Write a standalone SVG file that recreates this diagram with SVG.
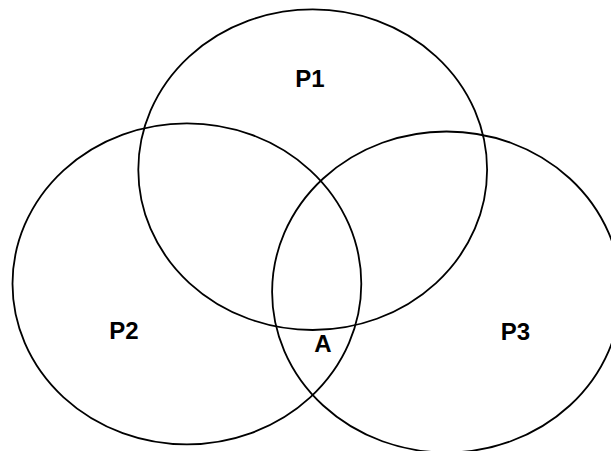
<svg xmlns="http://www.w3.org/2000/svg" width="611" height="451" viewBox="0 0 611 451">
<style>
.c{fill:none;stroke:#000;stroke-width:1.8}
.t{font-family:"Liberation Sans",Arial,sans-serif;font-weight:bold;font-size:24px;fill:#000;text-anchor:middle}
</style>
<rect width="611" height="451" fill="#fff"/>
<g id="P1"><ellipse class="c" cx="312.7" cy="169.7" rx="174.4" ry="160.3"/><text class="t" x="310" y="87">P1</text></g>
<g id="P2"><ellipse class="c" cx="186.9" cy="283.8" rx="174.4" ry="160.5"/><text class="t" x="124" y="339">P2</text></g>
<g id="P3"><ellipse class="c" cx="446.5" cy="292" rx="174.4" ry="160.5"/><text class="t" x="515.5" y="340">P3</text></g>
<g id="A"><text class="t" x="323" y="352">A</text></g>
<g id="connectors"/>
</svg>
